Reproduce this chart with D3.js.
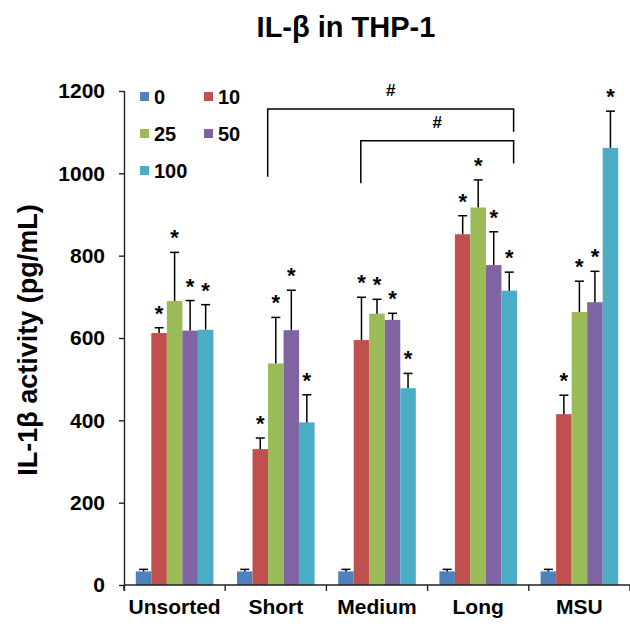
<!DOCTYPE html>
<html>
<head>
<meta charset="utf-8">
<script src="https://cdn.jsdelivr.net/npm/d3@7"></script>
<style>
  body { margin: 0; background: #fff; }
  text { font-family: Arial, "Liberation Sans", sans-serif; font-weight: bold; fill: #000; }
</style>
</head>
<body>
<svg id="chart" width="630" height="626"></svg>
<script>
// data
const categories = ['Unsorted', 'Short', 'Medium', 'Long', 'MSU'];
const doses = ['0', '10', '25', '50', '100'];
const doseColors = ['#4F81BD', '#C0504D', '#9BBB59', '#8064A2', '#4BACC6'];

const mean0 = [33, 33, 33, 33, 33];
const mean10 = [612, 330, 595, 852, 415];
const mean25 = [690, 538, 659, 917, 663];
const mean50 = [618, 619, 644, 777, 687];
const mean100 = [620, 395, 478, 715, 1062];

const err0 = [5, 5, 5, 5, 5];
const err10 = [13, 27, 104, 45, 46];
const err25 = [118, 112, 35, 67, 75];
const err50 = [73, 97, 16, 81, 75];
const err100 = [61, 67, 36, 45, 89];

const starred = [false, true, true, true, true];
const yTicks = [0, 200, 400, 600, 800, 1000, 1200];

// brackets for '#' comparisons (values in y units)
const brackets = [
  { from: 'Short', to: 'Long', top: 1156, leftEnd: 992, rightEnd: 1101 },
  { from: 'Medium', to: 'Long', top: 1079, leftEnd: 976, rightEnd: 1024 }
];

const means = [mean0, mean10, mean25, mean50, mean100];
const errs = [err0, err10, err25, err50, err100];

const svg = d3.select('#chart');
const margin = { top: 91, right: 0, bottom: 41, left: 124 };
const width = +svg.attr('width') - margin.left - margin.right;
const height = +svg.attr('height') - margin.top - margin.bottom;

const g = svg.append('g')
  .attr('transform', `translate(${margin.left},${margin.top})`);

const x = d3.scaleBand().domain(categories).range([0, width]);
const xSub = d3.scaleBand().domain(doses).range([0, x.bandwidth()]).paddingOuter(0.76);
const y = d3.scaleLinear().domain([0, 1200]).range([height, 0]);

// flatten into bar records
const bars = [];
categories.forEach((c, ci) => {
  doses.forEach((d, di) => {
    bars.push({ cat: c, dose: d, di: di, value: means[di][ci], err: errs[di][ci], star: starred[di] });
  });
});

// bars
g.selectAll('rect.bar')
  .data(bars)
  .join('rect')
  .attr('class', 'bar')
  .attr('x', d => x(d.cat) + xSub(d.dose))
  .attr('y', d => y(d.value))
  .attr('width', xSub.bandwidth())
  .attr('height', d => y(0) - y(d.value))
  .attr('fill', d => doseColors[d.di]);

// error bars (upper only)
const cx = d => x(d.cat) + xSub(d.dose) + xSub.bandwidth() / 2;
const eb = g.selectAll('g.err').data(bars).join('g').attr('class', 'err');
eb.append('line')
  .attr('x1', cx).attr('x2', cx)
  .attr('y1', d => y(d.value)).attr('y2', d => y(d.value + d.err))
  .attr('stroke', '#000').attr('stroke-width', 1.5);
eb.append('line')
  .attr('x1', d => cx(d) - 4.5).attr('x2', d => cx(d) + 4.5)
  .attr('y1', d => y(d.value + d.err)).attr('y2', d => y(d.value + d.err))
  .attr('stroke', '#000').attr('stroke-width', 1.5);

// significance stars
g.selectAll('text.star')
  .data(bars.filter(d => d.star))
  .join('text')
  .attr('class', 'star')
  .attr('x', cx)
  .attr('y', d => y(d.value + d.err) - 7)
  .attr('text-anchor', 'middle')
  .style('font-size', '22px')
  .text('*');

// y axis
const yAxis = g.append('g')
  .call(d3.axisLeft(y).tickValues(yTicks).tickFormat(d3.format('d'))
    .tickSize(5).tickSizeOuter(0).tickPadding(14));
yAxis.select('.domain').attr('stroke', '#222').attr('stroke-width', 1.4)
  .attr('d', `M0.5,0V${height + 6}`);
yAxis.selectAll('.tick line').attr('stroke', '#222').attr('stroke-width', 1.4);
yAxis.selectAll('.tick text')
  .style('font-size', '21px').style('font-weight', 'bold')
  .style('font-family', 'Arial, "Liberation Sans", sans-serif')
  .attr('fill', '#000');

// x axis: line, boundary ticks, labels
g.append('line')
  .attr('x1', 0).attr('x2', width)
  .attr('y1', height).attr('y2', height)
  .attr('stroke', '#222').attr('stroke-width', 1.4);
const bounds = categories.map(c => x(c)).concat([width]);
g.selectAll('line.xtick')
  .data(bounds)
  .join('line')
  .attr('class', 'xtick')
  .attr('x1', d => d).attr('x2', d => d)
  .attr('y1', height).attr('y2', height + 6)
  .attr('stroke', '#222').attr('stroke-width', 1.4);
g.selectAll('text.xlab')
  .data(categories)
  .join('text')
  .attr('class', 'xlab')
  .attr('x', d => x(d) + x.bandwidth() / 2)
  .attr('y', height + 29)
  .attr('text-anchor', 'middle')
  .style('font-size', '21px')
  .text(d => d);

// brackets
brackets.forEach(b => {
  const x1 = x(b.from) + x.bandwidth() * (b.from === 'Short' ? 0.42 : 0.34);
  const x2 = x(b.to) + x.bandwidth() * 0.85;
  g.append('path')
    .attr('d', `M${x1},${y(b.leftEnd)}V${y(b.top)}H${x2}V${y(b.rightEnd)}`)
    .attr('fill', 'none').attr('stroke', '#000').attr('stroke-width', 1.5);
  g.append('text')
    .attr('x', (x1 + x2) / 2)
    .attr('y', y(b.top) - 13)
    .attr('text-anchor', 'middle')
    .style('font-size', '17px')
    .text('#');
});

// legend
const legend = svg.append('g').attr('transform', 'translate(140,92)');
const li = legend.selectAll('g').data(doses).join('g')
  .attr('transform', (d, i) => `translate(${(i % 2) * 64},${Math.floor(i / 2) * 37})`);
li.append('rect').attr('width', 9).attr('height', 9).attr('fill', (d, i) => doseColors[i]);
li.append('text').attr('x', 14).attr('y', 11.5).style('font-size', '20px').text(d => d);

// title and y label
svg.append('text')
  .attr('x', 346).attr('y', 37)
  .attr('text-anchor', 'middle')
  .style('font-size', '29px')
  .text('IL-β in THP-1');

svg.append('text')
  .attr('transform', 'translate(37,340) rotate(-90)')
  .attr('text-anchor', 'middle')
  .style('font-size', '27px')
  .text('IL-1β activity (pg/mL)');
</script>
</body>
</html>
